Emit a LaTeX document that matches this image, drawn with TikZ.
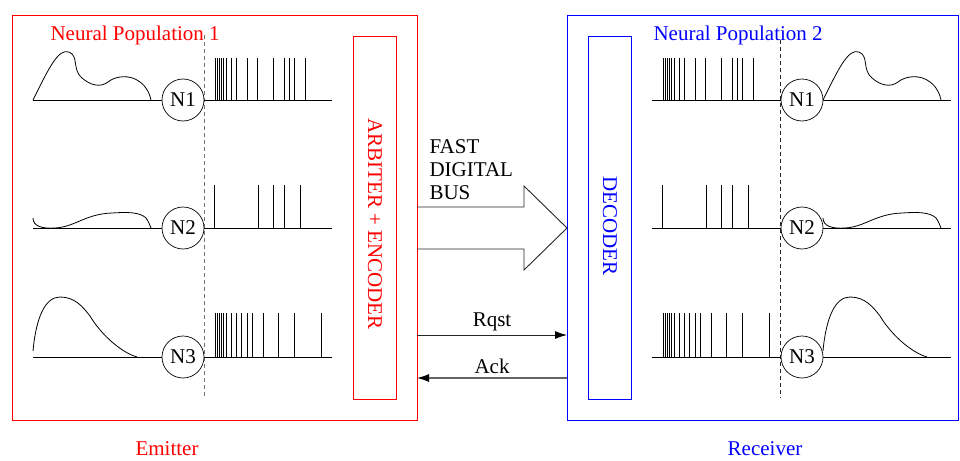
\documentclass[tikz,border=0pt]{standalone}
\usepackage{fontspec}
\setmainfont{Liberation Serif}
\usetikzlibrary{arrows.meta,calc}
\begin{document}
\begin{tikzpicture}[x=1pt,y=-1pt,
  every node/.style={font=\fontsize{21}{23}\selectfont},
  frame/.style={line width=0.9pt},
  neuron/.style={circle,draw,line width=0.7pt,minimum size=42pt,inner sep=0pt},
  base/.style={line width=0.8pt},
  spk/.style={line width=0.8pt},
  wave/.style={line width=0.8pt},
  divider/.style={dashed,line width=0.9pt,dash pattern=on 4pt off 3pt},
  sig/.style={line width=0.9pt,-{Latex[length=12pt,width=8pt,color=black]}}]
\useasboundingbox (0,0) rectangle (960,460);

% frames
\draw[frame,red] (12,15) rectangle (417,420);
\draw[frame,blue] (567,15) rectangle (958,420);
\node[red,anchor=west] (pop1) at (47,35) {Neural Population 1};
\node[blue,anchor=west] (pop2) at (650,35) {Neural Population 2};
\node[red,inner sep=1pt] (emit) at (167,449) {Emitter};
\node[blue,inner sep=1pt] (recv) at (765,449) {Receiver};

% arbiter / decoder
\draw[frame,red] (353,36) rectangle (396,399);
\node[red,rotate=-90] (arb) at (375,224) {ARBITER + ENCODER};
\draw[frame,blue] (588,36) rectangle (631,399);
\node[blue,rotate=-90] (dec) at (610,226) {DECODER};

% dividers
\draw[divider,black!55] (204,35) -- (204,398);
\draw[divider,black!85] (780,40) -- (780,398);

% ---------- left side ----------
\node[neuron] (L1) at (183,100) {N1};
\node[neuron] (L2) at (183,228) {N2};
\node[neuron] (L3) at (183,357) {N3};
\coordinate (L1s) at (33,100); \coordinate (L1e) at (332,100);
\coordinate (L2s) at (33,228); \coordinate (L2e) at (332,228);
\coordinate (L3s) at (33,357); \coordinate (L3e) at (332,357);
\draw[base] (L1s) -- (L1); \draw[base] (L1) -- (L1e);
\draw[base] (L2s) -- (L2); \draw[base] (L2) -- (L2e);
\draw[base] (L3s) -- (L3); \draw[base] (L3) -- (L3e);

\foreach \s in {215,217,219,221,223,226,231,236,247,257,273,284,289,294,305}
  \draw[spk] (\s,100) -- (\s,58);
\foreach \s in {214,258,273,284,300}
  \draw[spk] (\s,228) -- (\s,185);
\foreach \s in {215,217,219,221,223,226,231,236,241,247,252,263,278,294,321}
  \draw[spk] (\s,357) -- (\s,313);

\draw[wave] (33,100) .. controls (48,70) and (58,48) .. (69,52)
  .. controls (79,56) and (72,70) .. (82,78)
  .. controls (90,85) and (100,88) .. (108,82)
  .. controls (115,76) and (130,74) .. (140,82)
  .. controls (147,87) and (150,95) .. (151,100);
\draw[wave] (33,218) .. controls (33,226) and (42,229) .. (55,228)
  .. controls (75,227) and (85,214) .. (112,213)
  .. controls (127,212) and (140,212) .. (146,218)
  .. controls (149,222) and (150,226) .. (151,228);
\draw[wave] (33,351) .. controls (36,318) and (45,297) .. (60,297)
  .. controls (75,297) and (83,307) .. (90,316)
  .. controls (100,333) and (120,352) .. (137,357);

% ---------- right side ----------
\node[neuron] (R1) at (802,100) {N1};
\node[neuron] (R2) at (802,228) {N2};
\node[neuron] (R3) at (802,357) {N3};
\coordinate (R1s) at (652,100); \coordinate (R1e) at (951,100);
\coordinate (R2s) at (652,228); \coordinate (R2e) at (951,228);
\coordinate (R3s) at (652,357); \coordinate (R3e) at (951,357);
\draw[base] (R1s) -- (R1); \draw[base] (R1) -- (R1e);
\draw[base] (R2s) -- (R2); \draw[base] (R2) -- (R2e);
\draw[base] (R3s) -- (R3); \draw[base] (R3) -- (R3e);

\begin{scope}[xshift=448pt]
\foreach \s in {215,217,219,221,223,226,231,236,247,257,273,284,289,294,305}
  \draw[spk] (\s,100) -- (\s,58);
\foreach \s in {214,258,273,284,300}
  \draw[spk] (\s,228) -- (\s,185);
\foreach \s in {215,217,219,221,223,226,231,236,241,247,252,263,278,294,321}
  \draw[spk] (\s,357) -- (\s,313);
\end{scope}

\begin{scope}[xshift=790pt]
\draw[wave] (33,100) .. controls (48,70) and (58,48) .. (69,52)
  .. controls (79,56) and (72,70) .. (82,78)
  .. controls (90,85) and (100,88) .. (108,82)
  .. controls (115,76) and (130,74) .. (140,82)
  .. controls (147,87) and (150,95) .. (151,100);
\draw[wave] (33,218) .. controls (33,226) and (42,229) .. (55,228)
  .. controls (75,227) and (85,214) .. (112,213)
  .. controls (127,212) and (140,212) .. (146,218)
  .. controls (149,222) and (150,226) .. (151,228);
\draw[wave] (33,351) .. controls (36,318) and (45,297) .. (60,297)
  .. controls (75,297) and (83,307) .. (90,316)
  .. controls (100,333) and (120,352) .. (137,357);
\end{scope}

% ---------- bus ----------
\coordinate (busA) at (417,207);
\coordinate (busB) at (417,249);
\draw[line width=0.9pt,black!85,line join=miter]
  (busA) -- (524,207) -- (524,186) -- (567,228) -- (524,270) -- (524,249) -- (busB);
\node[anchor=west,align=left] (bus) at (426,170) {FAST\\DIGITAL\\BUS};

% ---------- handshake ----------
\coordinate (rq1) at (417,335); \coordinate (rq2) at (567,335);
\coordinate (ak1) at (567,378); \coordinate (ak2) at (417,378);
\draw[sig,black!85] (rq1) -- (rq2);
\node[above=1pt] (rqst) at ($(rq1)!0.5!(rq2)$) {Rqst};
\draw[sig,black!60,line width=1.1pt] (ak1) -- (ak2);
\node[above=1pt] (ack) at ($(ak1)!0.5!(ak2)$) {Ack};
\end{tikzpicture}
\end{document}
